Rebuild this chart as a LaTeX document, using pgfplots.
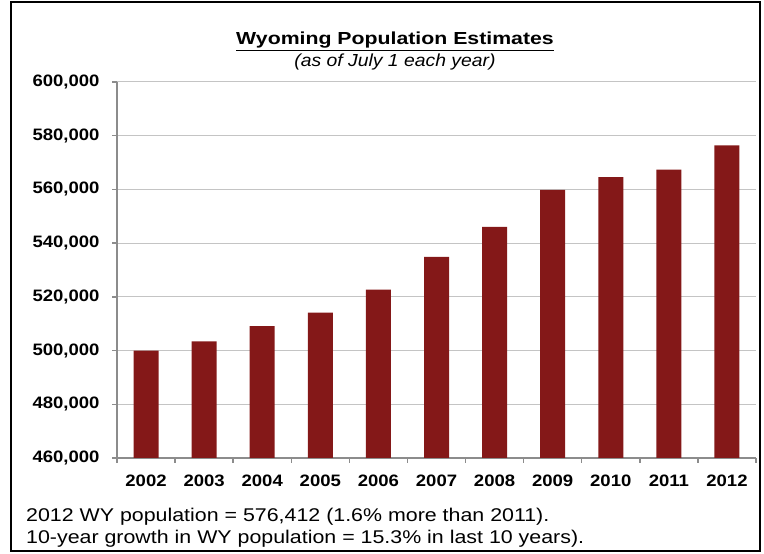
\documentclass[border=0pt]{standalone}
\usepackage{fontspec}
\setmainfont{Liberation Sans}
\usepackage{graphicx}
\usepackage{pgfplots}
\pgfplotsset{compat=1.18}
\definecolor{barred}{HTML}{841818}
\definecolor{gridgray}{HTML}{C4C4C4}
\definecolor{axisgray}{HTML}{8C8C8C}
\newcommand{\sx}[1]{\scalebox{1.12}[1]{#1}}
\begin{document}
\begin{tikzpicture}[x=1bp,y=1bp]
\useasboundingbox (0,0) rectangle (764,554);
\draw[black, line width=2.2bp] (11,3) rectangle (760,552);
\node[font=\fontsize{17.5}{20}\selectfont\bfseries, anchor=base] at (395,509) {\scalebox{1.22}[1]{\underline{Wyoming Population Estimates}}};
\node[font=\fontsize{17.5}{20}\selectfont\itshape, anchor=base] at (395,487) {\scalebox{1.11}[1]{(as of July 1 each year)}};
\begin{axis}[
  at={(117bp,96bp)}, anchor=south west,
  scale only axis, width=639bp, height=376bp,
  xmin=-0.5, xmax=10.5, ymin=460000, ymax=600000,
  ytick={460000,480000,...,600000},
  scaled y ticks=false,
  xtick={0,...,10},
  xticklabels={\sx{2002},\sx{2003},\sx{2004},\sx{2005},\sx{2006},\sx{2007},\sx{2008},\sx{2009},\sx{2010},\sx{2011},\sx{2012}},
  yticklabel={\sx{\pgfmathprintnumber{\tick}}},
  minor xtick={-0.5,0.5,...,10.5},
  major x tick style={draw=none},
  minor tick length=5bp, major tick length=5bp,
  tick align=outside,
  tick style={axisgray, line width=1.5bp},
  axis x line*=bottom, axis y line*=left,
  axis line style={axisgray, line width=1.8bp},
  ymajorgrids, grid style={gridgray, line width=1bp},
  yticklabel style={font=\fontsize{16.6}{19}\selectfont\bfseries, xshift=-9bp},
  xticklabel style={font=\fontsize{16.6}{19}\selectfont\bfseries, yshift=-8bp},
  /pgf/number format/.cd, fixed, 1000 sep={,}, assume math mode=true,
]
\addplot[ybar, bar width=25bp, fill=barred, draw=none] coordinates {
(0,500017) (1,503453) (2,509106) (3,514157) (4,522667) (5,534876)
(6,546043) (7,559851) (8,564554) (9,567356) (10,576412)};
\end{axis}
\node[font=\fontsize{18.5}{20}\selectfont, anchor=base west, inner sep=0pt] at (26,32) {\scalebox{1.16}[1]{2012 WY population = 576,412 (1.6\% more than 2011).}};
\node[font=\fontsize{18.5}{20}\selectfont, anchor=base west, inner sep=0pt] at (26,10) {\scalebox{1.16}[1]{10-year growth in WY population = 15.3\% in last 10 years).}};
\end{tikzpicture}
\end{document}
